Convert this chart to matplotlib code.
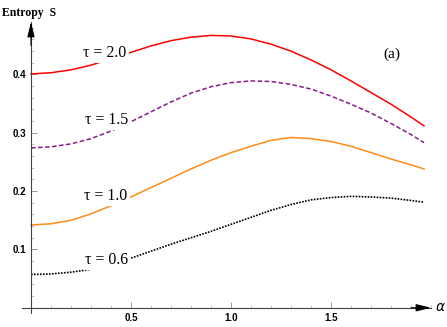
import numpy as np
import matplotlib
matplotlib.use("Agg")
import matplotlib.pyplot as plt
from matplotlib.ticker import MultipleLocator

# alpha grid
alpha = [0.0, 0.1, 0.2, 0.3, 0.4, 0.5, 0.6, 0.7, 0.8, 0.9, 1.0,
         1.1, 1.2, 1.3, 1.4, 1.5, 1.6, 1.7, 1.8, 1.9, 1.965]

s_tau20 = [0.401, 0.403, 0.408, 0.416, 0.427, 0.438, 0.449, 0.458, 0.464, 0.467, 0.466,
           0.461, 0.452, 0.440, 0.425, 0.408, 0.389, 0.369, 0.349, 0.327, 0.312]
s_tau15 = [0.274, 0.276, 0.281, 0.290, 0.303, 0.319, 0.336, 0.353, 0.368, 0.379, 0.386,
           0.389, 0.388, 0.383, 0.375, 0.363, 0.349, 0.334, 0.316, 0.297, 0.283]
s_tau10 = [0.142, 0.144, 0.150, 0.161, 0.175, 0.190, 0.206, 0.222, 0.238, 0.253, 0.266,
           0.277, 0.287, 0.292, 0.290, 0.285, 0.277, 0.266, 0.255, 0.245, 0.238]
s_tau06 = [0.057, 0.058, 0.061, 0.066, 0.074, 0.085, 0.097, 0.109, 0.120, 0.131, 0.143,
           0.155, 0.167, 0.177, 0.185, 0.189, 0.191, 0.190, 0.188, 0.184, 0.181]

labels = ["\u03c4 = 2.0", "\u03c4 = 1.5", "\u03c4 = 1.0", "\u03c4 = 0.6"]
label_pos = [(0.37, 0.430), (0.38, 0.315), (0.375, 0.185), (0.38, 0.075)]

fig = plt.figure(figsize=(4.47, 3.27), dpi=100)
ax = fig.add_axes([22 / 447, (327 - 313) / 327, (431 - 22) / 447, (313 - 22) / 327])

ax.plot(alpha, s_tau20, color="red", lw=1.1, ls="-")
ax.plot(alpha, s_tau15, color="#8b1a8b", lw=1.1, ls=(0, (3, 1.6)))
ax.plot(alpha, s_tau10, color="#ff8c1a", lw=1.1, ls="-")
ax.plot(alpha, s_tau06, color="black", lw=1.2, ls=(0, (1, 0.8)))

for txt, (x, y) in zip(labels, label_pos):
    ax.text(x, y, txt, family="Liberation Serif", fontsize=11.5, ha="center", va="baseline",
            bbox=dict(facecolor="white", edgecolor="none", pad=1.5))

ax.text(1.805, 0.434, "(a)", family="Liberation Serif", fontsize=11, ha="center", va="center")

ax.set_xlim(-0.045, 2.0)
ax.set_ylim(-0.009, 0.49)

for side in ["top", "right"]:
    ax.spines[side].set_visible(False)
ax.spines["left"].set_position(("data", 0))
ax.spines["bottom"].set_position(("data", 0))
ax.spines["left"].set_color("#444444")
ax.spines["bottom"].set_color("#444444")
ax.spines["left"].set_linewidth(0.8)
ax.spines["bottom"].set_linewidth(0.8)

ax.xaxis.set_minor_locator(MultipleLocator(0.1))
ax.yaxis.set_minor_locator(MultipleLocator(0.02))
ax.set_xticks([0.5, 1.0, 1.5])
ax.set_xticklabels(["0.5", "1.0", "1.5"])
ax.set_yticks([0.1, 0.2, 0.3, 0.4])
ax.set_yticklabels(["0.1", "0.2", "0.3", "0.4"])
ax.tick_params(which="major", direction="in", length=4, width=0.6, color="#888888",
               labelsize=7)
ax.tick_params(which="minor", direction="in", length=2, width=0.5, color="#aaaaaa")
for lab in ax.get_xticklabels() + ax.get_yticklabels():
    lab.set_fontweight("bold")
    lab.set_family("Liberation Sans")

# arrow heads on the axes
ax.annotate("", xy=(2.0, 0), xytext=(1.9, 0), annotation_clip=False,
            arrowprops=dict(arrowstyle="-|>,head_length=0.9,head_width=0.22",
                            color="black", lw=0.8, shrinkA=0, shrinkB=0))
ax.annotate("", xy=(0, 0.49), xytext=(0, 0.45), annotation_clip=False,
            arrowprops=dict(arrowstyle="-|>,head_length=0.9,head_width=0.22",
                            color="black", lw=0.8, shrinkA=0, shrinkB=0))

fig.text(0.005, 0.96, "Entropy  S", family="Liberation Serif", fontweight="bold",
         fontsize=8.5, ha="left", va="center")
fig.text(436 / 447, 1 - 307 / 327, "\u03b1", fontsize=10, style="italic",
         ha="left", va="center")

fig.savefig("out.png", dpi=100)
